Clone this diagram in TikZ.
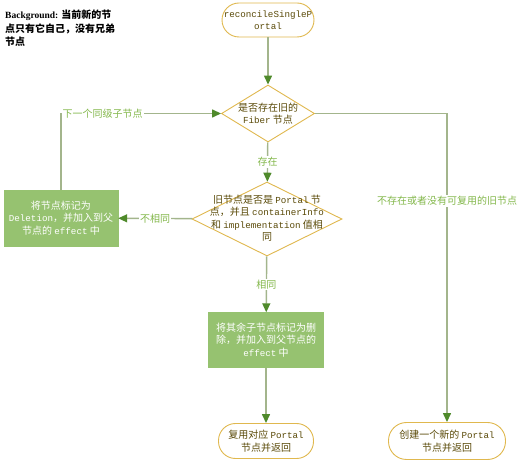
\documentclass[tikz,border=0pt]{standalone}
\usepackage{fontspec}
\usetikzlibrary{shapes.geometric,arrows.meta}
\newfontfamily\zh{Noto Sans CJK SC}
\newfontfamily\mn{Liberation Mono}
\newfontfamily\bgserif{Liberation Serif}
\newcommand\latn[1]{{\mn\fontsize{9.2}{12.5}\selectfont #1}}
\definecolor{gold}{HTML}{E0B84E}
\definecolor{linec}{HTML}{A3B58C}
\definecolor{arrowc}{HTML}{4F8A2B}
\definecolor{lblc}{HTML}{84B84C}
\definecolor{boxg}{HTML}{96C270}
\definecolor{txtc}{HTML}{5A4A08}
\begin{document}
\begin{tikzpicture}[x=1pt,y=-1pt,
  font=\zh\fontsize{10}{12.5}\selectfont,
  term/.style={draw=gold,line width=0.9pt,fill=white,rounded corners=17pt,inner sep=0pt,align=center,text=txtc},
  dia/.style={diamond,draw=gold,line width=0.9pt,fill=white,inner sep=0pt},
  dtext/.style={align=center,text=txtc,inner sep=0pt},
  gbox/.style={draw=boxg,fill=boxg,inner sep=0pt,align=center,text=white},
  conn/.style={draw=linec,line width=1.4pt,-{Triangle[length=9pt,width=8pt,color=arrowc]}},
  lbl/.style={fill=white,text=lblc,inner sep=1pt}]
\useasboundingbox (0,0) rectangle (528,462);

\node[anchor=north west,align=left,inner sep=0pt,font=\zh\bfseries\fontsize{10}{13.5}\selectfont] (bg) at (5,10)
  {{\bgserif\bfseries\fontsize{9.5}{13.5}\selectfont Background:} 当前新的节\\点只有它自己，没有兄弟\\节点};

\node[term,minimum width=92pt,minimum height=34pt] (start) at (268,20)
  {\latn{reconcileSingleP}\\\latn{ortal}};

\node[dia,minimum width=93pt,minimum height=57pt] (d1) at (268,113.5) {};
\node[dtext] (d1t) at (d1) {是否存在旧的\\\latn{Fiber} 节点};

\node[dia,minimum width=150pt,minimum height=74pt] (d2) at (267,219) {};
\node[dtext] (d2t) at (267,218) {旧节点是否是 \latn{Portal} 节\\点，并且 \latn{containerInfo}\\和 \latn{implementation} 值相\\同};

\node[gbox,minimum width=114pt,minimum height=56pt] (lb) at (61,218)
  {将节点标记为\\\latn{Deletion}，并加入到父\\节点的 \latn{effect} 中};

\node[gbox,minimum width=115pt,minimum height=55pt] (b2) at (266,340)
  {将其余子节点标记为删\\除，并加入到父节点的\\\latn{effect} 中};

\node[term,minimum width=95pt,minimum height=35pt] (e1) at (266,441)
  {复用对应 \latn{Portal}\\节点并返回};

\node[term,minimum width=117pt,minimum height=37pt,rounded corners=18pt] (e2) at (447,441)
  {创建一个新的 \latn{Portal}\\节点并返回};

\draw[conn] (start) -- (d1);
\draw[conn] (d1) -- node[lbl] (l1) {存在} (d2);
\draw[conn] (d2) -- node[lbl] (l2) {不相同} (lb);
\draw[conn] (lb.north) |- node[lbl,pos=0.63] (l3) {下一个同级子节点} (d1.west);
\draw[conn] (d1.east) -| node[lbl,pos=0.642] (l4) {不存在或者没有可复用的旧节点} (e2.north);
\draw[conn] (d2) -- node[lbl] (l5) {相同} (b2);
\draw[conn] (b2) -- (e1);
\end{tikzpicture}
\end{document}
